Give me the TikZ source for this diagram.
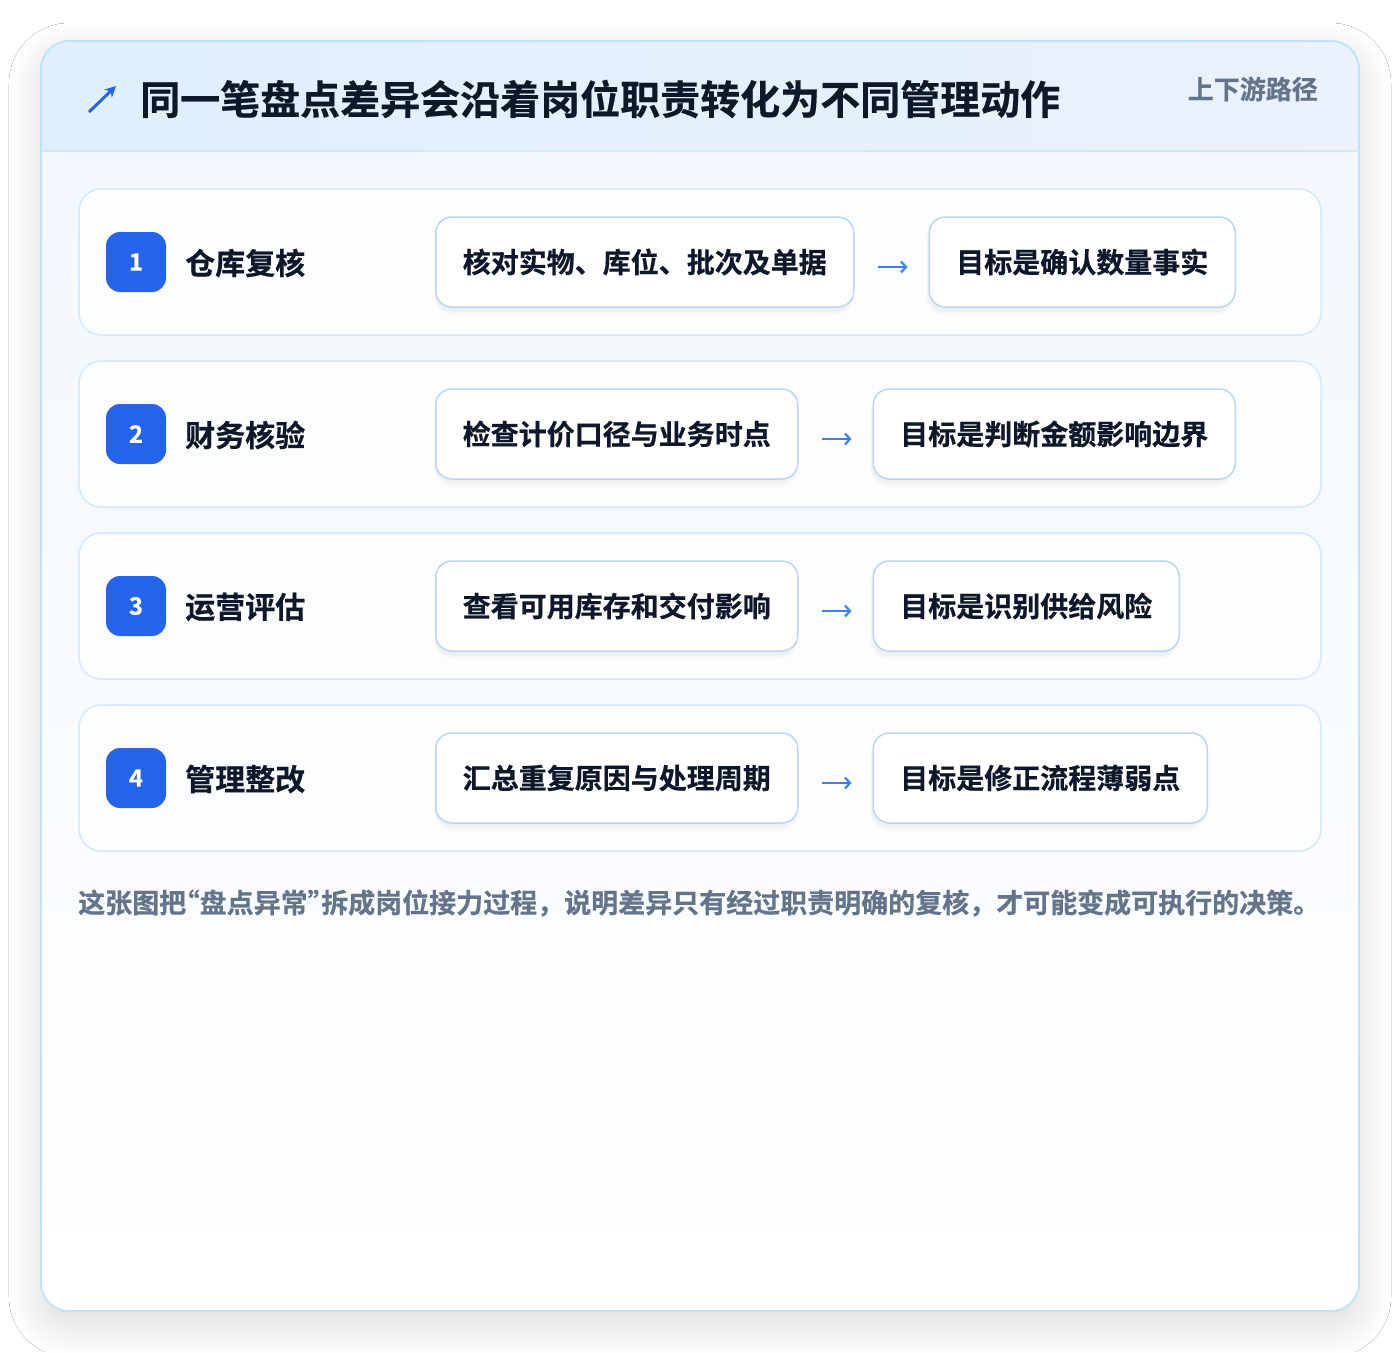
\documentclass[tikz,border=0pt]{standalone}
\usepackage{fontspec}
\setmainfont{Noto Sans CJK SC}[BoldFont={* Bold}, BoldFeatures={FakeBold=0.5}]
\usetikzlibrary{arrows.meta,shadows.blur}
\definecolor{cardborder}{HTML}{BEE2F6}
\definecolor{headL}{HTML}{DFEFFD}
\definecolor{headR}{HTML}{EBF1FD}
\definecolor{headline}{HTML}{D3E6F8}
\definecolor{bodytop}{HTML}{F2F8FE}
\definecolor{rowborder}{HTML}{D5E8FA}
\definecolor{rowfill}{HTML}{FCFDFF}
\definecolor{boxborder}{HTML}{BCD5F5}
\definecolor{badgeblue}{HTML}{2563EB}
\definecolor{arrowblue}{HTML}{3B82F6}
\definecolor{ink}{HTML}{0F172A}
\definecolor{slate}{HTML}{64748B}
\tikzset{
  rowbox/.style={draw=rowborder, fill=rowfill, line width=1.5pt, rounded corners=22pt,
    minimum width=1242pt, minimum height=146pt, inner sep=0pt},
  badge/.style={fill=badgeblue, rounded corners=14pt, minimum size=60pt, inner sep=0pt,
    text=white, font=\fontsize{24}{26}\selectfont\bfseries},
  steplabel/.style={anchor=west, inner sep=0pt, text=ink, font=\fontsize{30}{34}\selectfont\bfseries},
  pbox/.style={draw=boxborder, fill=white, line width=1.5pt, rounded corners=16pt,
    minimum height=90pt, inner xsep=27pt, inner ysep=0pt, anchor=west, text=ink,
    font=\fontsize{28}{32}\selectfont\bfseries},
  boxshadow/.style={fill=black, opacity=0.025, rounded corners=18pt},
  flow/.style={draw=arrowblue, line width=2.2pt, -{Straight Barb[length=5pt,width=11pt]},
    shorten <=23pt, shorten >=21pt},
}
\newcommand{\myLQ}{\makebox[0.5em][r]{“}}
\newcommand{\myRQ}{\makebox[0.5em][l]{”}}
\begin{document}
\begin{tikzpicture}[x=1pt,y=-1pt]
\useasboundingbox (0,0) rectangle (1400,1352);
\fill[white] (0,0) rectangle (1400,1352);
% card with shadow
\path[blur shadow={shadow blur radius=32pt, shadow xshift=0pt, shadow yshift=-14pt, shadow opacity=14, shadow blur steps=40}, fill=white, rounded corners=28pt] (41,41) rectangle (1359,1311);
\begin{scope}
  \clip[rounded corners=28pt] (41,41) rectangle (1359,1311);
  \shade[top color=bodytop, bottom color=white] (41,151) rectangle (1359,1311);
  \shade[left color=headL, right color=headR] (41,41) rectangle (1359,151);
  \draw[headline, line width=1.5pt] (41,151) -- (1359,151);
\end{scope}
\draw[cardborder, line width=1.8pt, rounded corners=28pt] (41,41) rectangle (1359,1311);
% header
\draw[badgeblue, line width=3pt, -{Stealth[length=11pt,width=11pt]}] (89,112) -- (116,86);
\node[anchor=west, inner sep=0pt, text=ink, font=\fontsize{40}{44}\selectfont\bfseries] (title) at (140,99) {同一笔盘点差异会沿着岗位职责转化为不同管理动作};
\node[anchor=east, inner sep=0pt, text=slate, font=\fontsize{26}{30}\selectfont\bfseries] (tag) at (1318,89) {上下游路径};
% rows
\node[rowbox] (r1) at (700,262) {};
\node[rowbox] (r2) at (700,434) {};
\node[rowbox] (r3) at (700,606) {};
\node[rowbox] (r4) at (700,778) {};
\node[badge] (n1) at (136,262) {1};
\node[badge] (n2) at (136,434) {2};
\node[badge] (n3) at (136,606) {3};
\node[badge] (n4) at (136,778) {4};
\node[steplabel] (l1) at (185,263) {仓库复核};
\node[steplabel] (l2) at (185,435) {财务核验};
\node[steplabel] (l3) at (185,607) {运营评估};
\node[steplabel] (l4) at (185,779) {管理整改};
% box shadows
\foreach \y/\wa/\wb in {262/418/306, 434/362/362, 606/362/306, 778/362/334}{
  \fill[boxshadow] (435,\y-39) rectangle (435+\wa,\y+53);
  \fill[boxshadow] (435,\y-41) rectangle (435+\wa,\y+50);
  \fill[boxshadow] (435+\wa+74,\y-39) rectangle (435+\wa+74+\wb,\y+53);
  \fill[boxshadow] (435+\wa+74,\y-41) rectangle (435+\wa+74+\wb,\y+50);
}
\node[pbox] (a1) at (435,262) {核对实物、库位、批次及单据};
\node[pbox] (a2) at (435,434) {检查计价口径与业务时点};
\node[pbox] (a3) at (435,606) {查看可用库存和交付影响};
\node[pbox] (a4) at (435,778) {汇总重复原因与处理周期};
\node[pbox] (g1) at ([xshift=74pt]a1.east) {目标是确认数量事实};
\node[pbox] (g2) at ([xshift=74pt]a2.east) {目标是判断金额影响边界};
\node[pbox] (g3) at ([xshift=74pt]a3.east) {目标是识别供给风险};
\node[pbox] (g4) at ([xshift=74pt]a4.east) {目标是修正流程薄弱点};
\draw[flow] ([yshift=-5pt]a1.east) -- ([yshift=-5pt]g1.west);
\draw[flow] ([yshift=-5pt]a2.east) -- ([yshift=-5pt]g2.west);
\draw[flow] ([yshift=-5pt]a3.east) -- ([yshift=-5pt]g3.west);
\draw[flow] ([yshift=-5pt]a4.east) -- ([yshift=-5pt]g4.west);
% footer
\node[anchor=west, inner sep=0pt, text=slate, font=\fontsize{27}{31}\selectfont\bfseries] (note) at (78,903) {这张图把\myLQ 盘点异常\myRQ 拆成岗位接力过程，说明差异只有经过职责明确的复核，才可能变成可执行的决策。};
\end{tikzpicture}
\end{document}
